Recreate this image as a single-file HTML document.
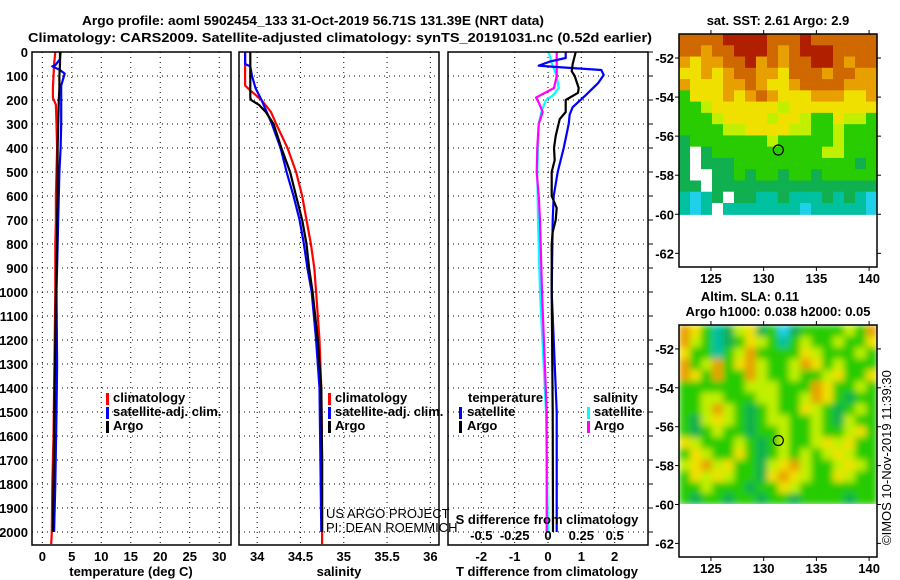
<!DOCTYPE html>
<html><head><meta charset="utf-8"><style>
html,body{margin:0;padding:0;background:#fff;}
svg{display:block;font-family:"Liberation Sans",Arial,sans-serif;}
.b{font-weight:bold;font-size:13px;}
.n{font-weight:normal;font-size:13px;}
</style></head><body>
<svg id="chart" width="900" height="580" viewBox="0 0 900 580" xmlns="http://www.w3.org/2000/svg">
<text x="313" y="25" text-anchor="middle" class="b" font-size="14" textLength="462" lengthAdjust="spacingAndGlyphs">Argo profile: aoml 5902454_133 31-Oct-2019 56.71S 131.39E (NRT data)</text>
<text x="340" y="42" text-anchor="middle" class="b" font-size="14" textLength="624" lengthAdjust="spacingAndGlyphs">Climatology: CARS2009. Satellite-adjusted climatology: synTS_20191031.nc (0.52d earlier)</text>
<g id="plots"></g>
</svg>
<script>
// ---------- data ----------
const depthTicks=[0,100,200,300,400,500,600,700,800,900,1000,1100,1200,1300,1400,1500,1600,1700,1800,1900,2000];
const tempTicks=[0,5,10,15,20,25,30];
const salTicks=[34,34.5,35,35.5,36];
const tdiffTicks=[-2,-1,0,1,2];
const sdiffTickLabels=["-0.5","-0.25","0","0.25","0.5"];
const sdiffTicks=[-0.5,-0.25,0,0.25,0.5];

const argoTDepth=[0,50,100,150,200,300,400,500,600,700,800,900,1000,1200,1400,1600,1800,2000];
const argoT=[3.0,3.0,2.9,2.9,2.8,2.7,2.6,2.6,2.6,2.5,2.5,2.4,2.3,2.2,2.1,2.0,1.9,1.8];
const climTDepth=[0,50,100,150,190,220,300,400,500,600,700,800,900,1000,1200,1400,1600,1800,2000,2050];
const climT=[2.2,2.0,1.9,1.8,1.8,2.3,2.4,2.5,2.4,2.3,2.3,2.2,2.2,2.2,2.1,2.0,1.9,1.7,1.6,1.5];
const satTDepth=[0,30,55,60,75,90,140,300,400,500,700,1000,1300,1500,1800,2000];
const satT=[3.1,3.0,2.2,1.7,3.0,3.8,3.2,3.2,3.1,2.9,2.7,2.4,2.5,2.4,2.2,2.0];

const argoSDepth=[0,190,200,220,250,300,400,500,600,700,800,900,1000,1200,1400,1700,2000];
const argoS=[33.92,33.92,33.93,34.02,34.1,34.19,34.28,34.38,34.45,34.52,34.57,34.6,34.64,34.7,34.74,34.75,34.75];
const climSDepth=[0,140,160,200,250,300,400,500,600,700,800,900,1000,1200,1400,1700,2050];
const climS=[33.86,33.86,33.92,34.05,34.16,34.22,34.35,34.45,34.52,34.57,34.62,34.66,34.68,34.72,34.74,34.75,34.75];
const satSDepth=[0,50,60,100,150,200,300,400,500,600,700,800,900,1000,1200,1400,1700,2000];
const satS=[33.86,33.86,33.92,33.94,33.98,34.05,34.17,34.27,34.34,34.42,34.49,34.54,34.58,34.63,34.68,34.72,34.73,34.74];

const argoTdDepth=[0,50,80,100,150,170,200,250,280,350,400,450,500,600,650,700,750,800,1000,1500,2000];
const argoTd=[0.83,0.74,0.71,0.8,0.92,0.9,0.53,0.53,0.35,0.23,0.18,0.2,0.11,0.11,0.26,0.23,0.14,0.11,0.11,0.14,0.15];
const satTdDepth=[0,25,40,57,62,75,96,130,180,230,260,300,400,500,600,700,1000,1500,2000];
const satTd=[0.53,0.53,0.05,-0.28,0.2,1.6,1.67,1.5,1.13,0.74,0.65,0.62,0.47,0.29,0.17,0.14,0.11,0.26,0.26];
const argoSdDepth=[0,100,150,190,210,250,300,400,500,600,700,1000,1500,2000];
const argoSd=[0.065,0.065,0.045,-0.09,-0.07,-0.04,-0.07,-0.08,-0.085,-0.07,-0.06,-0.045,-0.01,-0.01];
const satSdDepth=[0,50,100,150,180,200,250,300,500,700,1000,1500,2000];
const satSd=[0.005,0.03,0.065,0.08,0.04,-0.015,-0.05,-0.07,-0.08,-0.075,-0.06,-0.015,0];

// ---------- layout ----------
const NS="http://www.w3.org/2000/svg";
const root=document.getElementById('plots');
function el(tag,attrs,parent){const e=document.createElementNS(NS,tag);for(const k in attrs)e.setAttribute(k,attrs[k]);(parent||root).appendChild(e);return e;}
const yTop=52, yBot=545;
function yD(d){return yTop+d*0.24;}

const panels=[
 {name:'temperature-panel',x0:32,x1:231,v0:-1.75,v1:32},
 {name:'salinity-panel',x0:239,x1:439,v0:33.79,v1:36.1},
 {name:'difference-panel',x0:448,x1:648,v0:-3,v1:3}
];
panels.forEach(p=>{p.sx=v=>p.x0+(v-p.v0)/(p.v1-p.v0)*(p.x1-p.x0);});

function grid(p,ticks,labels,labelY){
  const g=el('g',{});
  
  
  depthTicks.forEach(d=>{ if(d===0)return;
    const l=el('line',{x1:p.x0,x2:p.x1,y1:yD(d),y2:yD(d),stroke:'#000','stroke-width':1,'stroke-dasharray':'1,4'},g);
    
    
  });
  ticks.forEach((t,i)=>{
    const x=p.sx(t);
    const l=el('line',{x1:x,x2:x,y1:yTop,y2:yBot,stroke:'#000','stroke-width':1,'stroke-dasharray':'1,4'},g);
    
    
    if(labels){
      const t2=el('text',{x:x,y:labelY,'text-anchor':'middle','class':'b'},g);
      t2.textContent=labels[i];
      
      
    }
  });
}
function frame(p){
  const r=el('rect',{x:p.x0,y:yTop,width:p.x1-p.x0,height:yBot-yTop,fill:'none',stroke:'#000','stroke-width':1.5});
  
  
}
function series(p,depths,vals,color,name,scale){
  scale=scale||1;
  const pts=depths.map((d,i)=>p.sx(vals[i]*scale).toFixed(1)+','+yD(d).toFixed(1)).join(' ');
  const l=el('polyline',{points:pts,fill:'none',stroke:color,'stroke-width':2.2,'stroke-linejoin':'round'});
  
  
}
function txt(x,y,s,name,cls,anchor,extra){
  const t=el('text',Object.assign({x:x,y:y,'class':cls||'b','text-anchor':anchor||'start'},extra||{}));
  t.textContent=s;
  
  
  return t;
}
function legBar(x,y,color){
  const r=el('rect',{x:x,y:y-10,width:3,height:12,fill:color});
  
  
}

const P1=panels[0],P2=panels[1],P3=panels[2];
// panel 1
grid(P1,tempTicks,tempTicks.map(String),561);
depthTicks.forEach(d=>txt(28,yD(d)+5,String(d),'y-tick-label','b','end'));
series(P1,climTDepth,climT,'#f00','temperature-climatology-line');
series(P1,satTDepth,satT,'#00f','temperature-satellite-line');
series(P1,argoTDepth,argoT,'#000','temperature-argo-line');
frame(P1);
txt(131,576,'temperature (deg C)','temperature-axis-title','b','middle');
legBar(106,403,'#f00');txt(113,402,'climatology','legend-entry-climatology');
legBar(106,417,'#00f');txt(113,416,'satellite-adj. clim.','legend-entry-satellite');
legBar(106,431,'#000');txt(113,430,'Argo','legend-entry-argo');

// panel 2
grid(P2,salTicks,salTicks.map(String),561);
series(P2,climSDepth,climS,'#f00','salinity-climatology-line');
series(P2,satSDepth,satS,'#00f','salinity-satellite-line');
series(P2,argoSDepth,argoS,'#000','salinity-argo-line');
frame(P2);
txt(339,576,'salinity','salinity-axis-title','b','middle');
legBar(328,403,'#f00');txt(335,402,'climatology','legend-entry-climatology');
legBar(328,417,'#00f');txt(335,416,'satellite-adj. clim.','legend-entry-satellite');
legBar(328,431,'#000');txt(335,430,'Argo','legend-entry-argo');
txt(326,518,'US ARGO PROJECT','credit-project','n');
txt(326,532,'PI: DEAN ROEMMICH','credit-pi','n');

// panel 3
grid(P3,tdiffTicks,tdiffTicks.map(String),561);
series(P3,satSdDepth,satSd,'#0ff','salinity-diff-satellite-line',4);
series(P3,argoSdDepth,argoSd,'#f0f','salinity-diff-argo-line',4);
series(P3,satTdDepth,satTd,'#00f','temperature-diff-satellite-line');
series(P3,argoTdDepth,argoTd,'#000','temperature-diff-argo-line');
frame(P3);
depthTicks.forEach(d=>{const l=el('line',{x1:648,x2:653,y1:yD(d),y2:yD(d),stroke:'#000'});});
txt(547,524,'S difference from climatology','s-axis-title','b','middle');
sdiffTicks.forEach((t,i)=>txt(P3.sx(t*4),540,sdiffTickLabels[i],'s-tick-label','b','middle'));
txt(547,576,'T difference from climatology','t-axis-title','b','middle');
txt(468,402,'temperature','legend-title-temperature');
legBar(459,417,'#00f');txt(467,416,'satellite','legend-entry-t-satellite');
legBar(459,431,'#000');txt(467,430,'Argo','legend-entry-t-argo');
txt(593,402,'salinity','legend-title-salinity');
legBar(587,417,'#0ff');txt(594,416,'satellite','legend-entry-s-satellite');
legBar(587,431,'#f0f');txt(594,430,'Argo','legend-entry-s-argo');

// ---------- maps ----------
const pal={R:'#b02000',O:'#d06800',o:'#e8a000',Y:'#f0e000',y:'#c0f000',G:'#28cc00',g:'#10b050',c:'#00c0a0',C:'#20d0e8',W:'#ffffff'};
const sstRows=["OOOORRRROOOROOOOOO","OOoOORRROoORRROOOO","oYooOORoOoOORROoOO","YYoYoOOooYOOOoOOoo","oYYYooOoYYoOOOOooo","GYYYoYoOoYYYoooYYo","GGyYYYYYYyYYYYYYYY","GGGyYYYYyYYyGGYyyG","GGGGyyYYYYyyGGyGGG","gGGGGGGGyGGGGGyGGG","gWgGGGGGGGGGGyyGGG","gWgggGGGGGGGGGGGgG","gWWggGgGGgGGgGGGGG","ggWggggggggggggggg","cCcgWggccgcccgcgcC","cCcWcccccccCcccccC"];
const slaRows=["oYGcgyYgGCgGGGGyGo","oyGcgGYyGcGyGGyGGY","YGGcGyoGGGGYyGGGyG","oGyoGYoyGGyoYGyGGG","oYGoGGoyGGyGGyYGGY","GGGGGGyyyGGGoYGGyG","GGyyGGGyyGGyoYGgGG","GGyoyGgGyGGYyGgGyG","GgyYyGgGyyGGyGgyGG","GgGyGGgGGyGGyGGyYG","YyGGGyGgGyGGyYyYGG","GYyGGYGgGyGyGyYyGG","yYoyYGGgyYoyGGyYyG","GYyYyGGgYoYyGGYyGG","GGyGGGgGGYyGGGGGGG","GgGGgGGgGGgGGGGgGG"];
const lonTicks=[125,130,135,140];
const latTicks=[-52,-54,-56,-58,-60,-62];
const floatLon=131.39, floatLat=-56.71;

function drawMap(name,rows,top,bot,blur){
  const g=el('g',{});
  
  
  const x0=679,x1=877;
  const lonX=v=>x0+(v-121.97)*(x1-x0)/(140.75-121.97);
  const latY=v=>top+(v-(-50.77))*(bot-top)/(-62.7-(-50.77));
  const yb=latY(-60);
  const cw=(x1-x0)/rows[0].length, ch=(yb-top)/rows.length;
  const cg=el('g',blur?{filter:'url(#blur)','clip-path':'url(#clip2)'}:{},g);
  rows.forEach((r,j)=>{for(let i=0;i<r.length;i++){
    const c=el('rect',{x:x0+i*cw,y:top+j*ch,width:cw+0.6,height:ch+0.6,fill:pal[r[i]]},cg);
    
    
  }});
  const f=el('rect',{x:x0,y:top,width:x1-x0,height:bot-top,fill:'none',stroke:'#000','stroke-width':1.5},g);
  
  
  lonTicks.forEach(v=>{const x=lonX(v);
    el('line',{x1:x,x2:x,y1:top,y2:top-4,stroke:'#000'},g);
    el('line',{x1:x,x2:x,y1:bot,y2:bot+4,stroke:'#000'},g);
    txt(x,bot+16,String(v),'lon-tick-label','b','middle');});
  latTicks.forEach(v=>{const y=latY(v);
    el('line',{x1:x1,x2:x1+4,y1:y,y2:y,stroke:'#000'},g);
    el('line',{x1:x0,x2:x0-4,y1:y,y2:y,stroke:'#000'},g);
    txt(x0-5,y+5,String(v),'lat-tick-label','b','end');});
  const c=el('circle',{cx:lonX(floatLon),cy:latY(floatLat),r:5,fill:'none',stroke:'#000','stroke-width':1.2},g);
  
  
}
const defs=el('defs',{});
const flt=el('filter',{id:'blur',x:'-5%',y:'-5%',width:'110%',height:'110%'},defs);
el('feGaussianBlur',{stdDeviation:3.5},flt);
const cp=el('clipPath',{id:'clip2'},defs);
el('rect',{x:679,y:325,width:198,height:179},cp);
drawMap('sst-map',sstRows,34,267,false);
drawMap('sla-map',slaRows,325,557,true);
txt(778,25,'sat. SST: 2.61 Argo: 2.9','sst-map-title','b','middle');
txt(750,301,'Altim. SLA: 0.11','sla-map-title','b','middle');
txt(778,316,'Argo h1000: 0.038 h2000: 0.05','sla-map-subtitle','b','middle');
txt(0,0,'©IMOS 10-Nov-2019 11:39:30','imos-timestamp','n',null,{'font-size':12,transform:'translate(891,545) rotate(-90)'});
</script>
</body></html>
